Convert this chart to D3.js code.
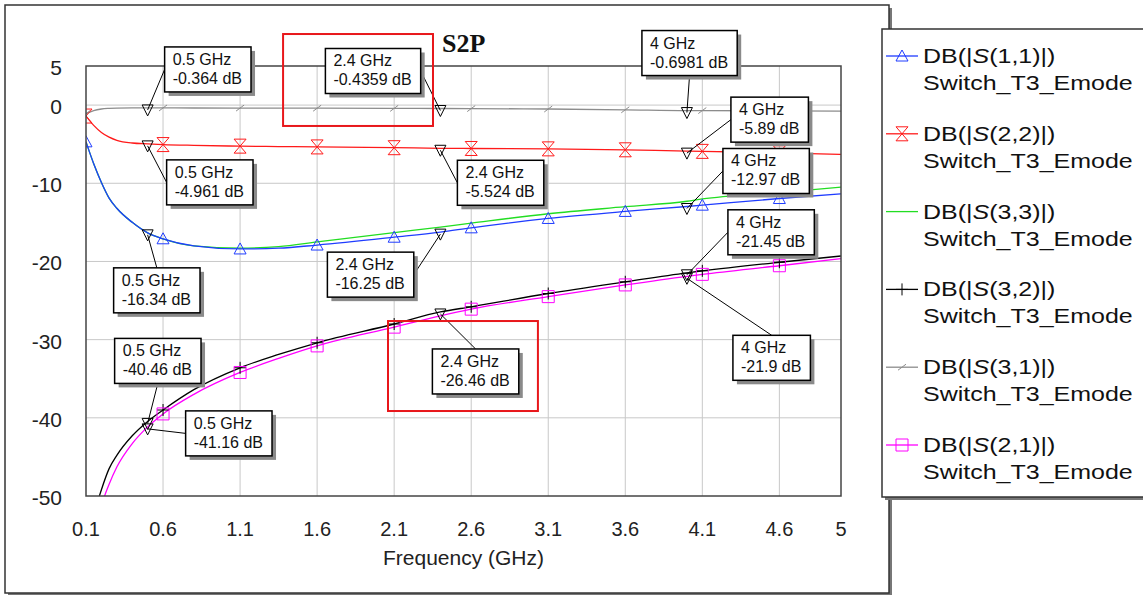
<!DOCTYPE html>
<html>
<head>
<meta charset="utf-8">
<script src="https://cdn.jsdelivr.net/npm/d3@7"></script>
<style>
  body { margin: 0; background: #fff; }
  svg { display: block; font-family: "Liberation Sans", Arial, sans-serif; }
</style>
</head>
<body>
<script>
// S-parameter sweep, Switch_T3_Emode

const FREQ = [0.1, 0.15, 0.2, 0.25, 0.3, 0.4, 0.5, 0.6, 0.8, 1.1, 1.35, 1.6, 2.1, 2.4, 2.6, 3.1, 3.6, 4.0, 4.1, 4.6, 5.0];

const S11 = [-4.7, -7.5, -9.9, -11.9, -13.2, -15.0, -16.34, -17.1, -18.0, -18.4, -18.3, -17.9, -16.9, -16.25, -15.7, -14.5, -13.6, -12.97, -12.8, -11.95, -11.35];
const S22 = [-1.4, -2.6, -3.5, -4.1, -4.5, -4.85, -4.961, -5.05, -5.15, -5.25, -5.3, -5.35, -5.45, -5.524, -5.55, -5.6, -5.72, -5.89, -5.92, -6.1, -6.3];
const S33 = [-4.7, -7.5, -9.9, -11.9, -13.2, -15.0, -16.34, -17.1, -18.0, -18.3, -18.1, -17.5, -16.3, -15.6, -15.1, -13.9, -13.0, -12.3, -12.0, -11.2, -10.5];
const S32 = [-57, -52.5, -49.2, -46.5, -44.8, -42.3, -40.46, -39.0, -36.4, -33.6, -31.9, -30.4, -28.0, -26.46, -25.8, -24.1, -22.6, -21.45, -21.2, -20.1, -19.3];
const S31 = [-1.1, -0.7, -0.5, -0.42, -0.38, -0.36, -0.364, -0.365, -0.37, -0.38, -0.39, -0.4, -0.42, -0.4359, -0.45, -0.5, -0.6, -0.6981, -0.7, -0.73, -0.78];
const S21 = [-60, -55, -51.2, -48.5, -46.3, -43.3, -41.16, -39.5, -37.0, -34.2, -32.4, -30.8, -28.4, -26.95, -26.1, -24.5, -23.0, -21.9, -21.65, -20.55, -19.65];

const SERIES_KEYS = ["S11", "S22", "S33", "S32", "S31", "S21"];
const SERIES_PORTS = ["1,1", "2,2", "3,3", "3,2", "3,1", "2,1"];
const SERIES_DESIGN = "Switch_T3_Emode";
// drawing order of the traces (blue sits on top of green)
const DRAW_ORDER = ["S33", "S11", "S22", "S31", "S32", "S21"];

const SYMBOL_FREQ = [0.1, 0.6, 1.1, 1.6, 2.1, 2.6, 3.1, 3.6, 4.1, 4.6];

const X_TICKS = [0.1, 0.6, 1.1, 1.6, 2.1, 2.6, 3.1, 3.6, 4.1, 4.6, 5];
const Y_TICKS = [5, 0, -10, -20, -30, -40, -50];

// marker readouts
const MARKER_SERIES = ["S31", "S31", "S31", "S22", "S11", "S22", "S22", "S11", "S11", "S32", "S21", "S32", "S32", "S21"];
const MARKER_FREQ = [0.5, 2.4, 4, 4, 4, 0.5, 2.4, 0.5, 2.4, 0.5, 0.5, 2.4, 4, 4];
const MARKER_VALUE = [-0.364, -0.4359, -0.6981, -5.89, -12.97, -4.961, -5.524, -16.34, -16.25, -40.46, -41.16, -26.46, -21.45, -21.9];

// callout box placement relative to its marker (px), and which side the leader leaves from
const CALLOUT_LAYOUT = [
  { dx: 17, dy: -61, side: "l" },
  { dx: -115, dy: -60, side: "r" },
  { dx: -45, dy: -80, side: "b" },
  { dx: 44, dy: -54, side: "l" },
  { dx: 36, dy: -58, side: "l" },
  { dx: 19, dy: 16, side: "l" },
  { dx: 17, dy: 12, side: "l" },
  { dx: -34, dy: 35, side: "t" },
  { dx: -113, dy: 20, side: "r" },
  { dx: -33, dy: -83, side: "b" },
  { dx: 38, dy: -16, side: "l" },
  { dx: -8, dy: 37, side: "t" },
  { dx: 41, dy: -63, side: "l" },
  { dx: 46, dy: 59, side: "t" }
];

// red highlight boxes (data units)
const HIGHLIGHT_F = [[1.379, 2.352], [2.06, 3.033]];
const HIGHLIGHT_DB = [[9.09, -2.67], [-27.62, -39.13]];

const SERIES_DATA = { S11, S22, S33, S32, S31, S21 };
const COLORS = { S11: "#1f3cff", S22: "#ff1a1a", S33: "#22dd22", S32: "#000000", S31: "#8c8c8c", S21: "#ff00ff" };

const SYMBOLS = {
  S11: "M0,-6L6,5L-6,5Z",
  S22: "M-6,-7H6L-6,7H6Z",
  S33: null,
  S32: "M-6,0H6M0,-6V6",
  S31: "M-4,3L4,-3",
  S21: "M-6,-6H6V6H-6Z"
};

const W = 1143, H = 595;
const plot = { left: 86, right: 841, top: 66, bottom: 496 };

const x = d3.scaleLinear().domain([0.1, 5]).range([plot.left, plot.right]);
const y = d3.scaleLinear().domain([5, -50]).range([plot.top, plot.bottom]);

const svg = d3.select("body").append("svg")
  .attr("width", W)
  .attr("height", H);

svg.append("defs").append("clipPath")
  .attr("id", "plotclip")
  .append("rect")
  .attr("x", plot.left)
  .attr("y", plot.top)
  .attr("width", plot.right - plot.left)
  .attr("height", plot.bottom - plot.top);

// outer frame with shadow
svg.append("rect")
  .attr("x", 8).attr("y", 8).attr("width", 884).attr("height", 588)
  .attr("fill", "#777");
svg.append("rect")
  .attr("x", 5).attr("y", 5).attr("width", 884).attr("height", 588)
  .attr("fill", "#fff")
  .attr("stroke", "#333")
  .attr("stroke-width", 1.5);

// grid
const grid = svg.append("g").attr("stroke", "#c8c8c8").attr("stroke-width", 1);
grid.selectAll(".vg")
  .data(X_TICKS.filter(t => t > 0.1 && t < 5))
  .join("line")
  .attr("x1", d => x(d)).attr("x2", d => x(d))
  .attr("y1", plot.top).attr("y2", plot.bottom);
grid.selectAll(".hg")
  .data(Y_TICKS.filter(t => t < 5 && t > -50))
  .join("line")
  .attr("x1", plot.left).attr("x2", plot.right)
  .attr("y1", d => y(d)).attr("y2", d => y(d));

// traces
const traces = svg.append("g").attr("clip-path", "url(#plotclip)");
const line = d3.line()
  .x((d, i) => x(FREQ[i]))
  .y(d => y(d))
  .curve(d3.curveMonotoneX);

DRAW_ORDER.forEach(k => {
  traces.append("path")
    .attr("d", line(SERIES_DATA[k]))
    .attr("fill", "none")
    .attr("stroke", COLORS[k])
    .attr("stroke-width", 1.3);
});

DRAW_ORDER.forEach(k => {
  if (!SYMBOLS[k]) return;
  const pts = FREQ.map((f, i) => ({ f, v: SERIES_DATA[k][i] }))
    .filter(p => SYMBOL_FREQ.some(s => Math.abs(s - p.f) < 1e-6));
  traces.selectAll(null)
    .data(pts)
    .join("path")
    .attr("transform", d => `translate(${x(d.f)},${y(d.v)})`)
    .attr("d", SYMBOLS[k])
    .attr("fill", "none")
    .attr("stroke", COLORS[k])
    .attr("stroke-width", 1);
});

// plot border
svg.append("rect")
  .attr("x", plot.left).attr("y", plot.top)
  .attr("width", plot.right - plot.left).attr("height", plot.bottom - plot.top)
  .attr("fill", "none")
  .attr("stroke", "#444")
  .attr("stroke-width", 1.5);

// axis labels
svg.append("g").selectAll("text")
  .data(Y_TICKS)
  .join("text")
  .attr("x", 62)
  .attr("y", d => y(d) + 9)
  .attr("text-anchor", "end")
  .attr("font-size", 21)
  .attr("fill", "#222")
  .text(d => d);

svg.append("g").selectAll("text")
  .data(X_TICKS)
  .join("text")
  .attr("x", d => x(d))
  .attr("y", 536)
  .attr("text-anchor", "middle")
  .attr("font-size", 20)
  .attr("fill", "#222")
  .text(d => d);

svg.append("text")
  .attr("x", (plot.left + plot.right) / 2)
  .attr("y", 565)
  .attr("text-anchor", "middle")
  .attr("font-size", 21)
  .attr("fill", "#222")
  .text("Frequency (GHz)");

// title
svg.append("text")
  .attr("x", 442)
  .attr("y", 52)
  .attr("font-family", "'Liberation Serif', 'Times New Roman', serif")
  .attr("font-weight", "bold")
  .attr("font-size", 26)
  .attr("fill", "#111")
  .text("S2P");

// marker callouts
const markers = MARKER_SERIES.map((s, i) => ({
  s, f: MARKER_FREQ[i], v: MARKER_VALUE[i], lay: CALLOUT_LAYOUT[i]
}));

const leaders = svg.append("g");
const tris = svg.append("g");
const boxes = svg.append("g");

markers.forEach(m => {
  const px = x(m.f), py = y(m.v);
  const bx = px + m.lay.dx, by = py + m.lay.dy;
  const g = boxes.append("g");
  const shadow = g.append("rect").attr("fill", "#8a8a8a");
  const box = g.append("rect").attr("fill", "#fff").attr("stroke", "#000").attr("stroke-width", 1.5);
  const t1 = g.append("text").attr("x", bx + 8).attr("y", by + 18).attr("font-size", 16).attr("fill", "#111")
    .text(`${m.f} GHz`);
  const t2 = g.append("text").attr("x", bx + 8).attr("y", by + 37).attr("font-size", 16).attr("fill", "#111")
    .text(`${m.v} dB`);
  const w = Math.max(t1.node().getComputedTextLength(), t2.node().getComputedTextLength()) + 17;
  const h = 45;
  shadow.attr("x", bx + 4).attr("y", by + 4).attr("width", w).attr("height", h);
  box.attr("x", bx).attr("y", by).attr("width", w).attr("height", h);

  let ax, ay;
  if (m.lay.side === "l") { ax = bx; ay = by + h / 2; }
  else if (m.lay.side === "r") { ax = bx + w; ay = by + h / 2; }
  else if (m.lay.side === "t") { ax = bx + w / 2; ay = by; }
  else { ax = bx + w / 2; ay = by + h; }

  leaders.append("line")
    .attr("x1", ax).attr("y1", ay)
    .attr("x2", px).attr("y2", py + 2)
    .attr("stroke", "#000")
    .attr("stroke-width", 1);

  tris.append("path")
    .attr("transform", `translate(${px},${py})`)
    .attr("d", "M-5.5,-3H5.5L0,8Z")
    .attr("fill", "none")
    .attr("stroke", "#000")
    .attr("stroke-width", 1);
});

// red highlight boxes
svg.append("g").selectAll("rect")
  .data(HIGHLIGHT_F.map((f, i) => ({ f, d: HIGHLIGHT_DB[i] })))
  .join("rect")
  .attr("x", d => x(d.f[0]))
  .attr("y", d => y(d.d[0]))
  .attr("width", d => x(d.f[1]) - x(d.f[0]))
  .attr("height", d => y(d.d[1]) - y(d.d[0]))
  .attr("fill", "none")
  .attr("stroke", "#e8171b")
  .attr("stroke-width", 2);

// legend
const legend = svg.append("g");
legend.append("rect")
  .attr("x", 885).attr("y", 32).attr("width", 270).attr("height", 468)
  .attr("fill", "#777");
legend.append("rect")
  .attr("x", 882).attr("y", 29).attr("width", 270).attr("height", 468)
  .attr("fill", "#fff")
  .attr("stroke", "#333")
  .attr("stroke-width", 1.5);

SERIES_KEYS.forEach((k, i) => {
  const yb = 63 + i * 77.8;
  const ly = yb - 7;
  legend.append("line")
    .attr("x1", 886).attr("x2", 918)
    .attr("y1", ly).attr("y2", ly)
    .attr("stroke", COLORS[k])
    .attr("stroke-width", 1.3);
  if (SYMBOLS[k]) {
    legend.append("path")
      .attr("transform", `translate(902,${ly})`)
      .attr("d", SYMBOLS[k])
      .attr("fill", "none")
      .attr("stroke", COLORS[k])
      .attr("stroke-width", 1);
  }
  const t1 = legend.append("text")
    .attr("transform", `translate(923,${yb}) scale(1.19,1)`)
    .attr("font-size", 21)
    .attr("fill", "#111");
  t1.append("tspan").text("DB(|");
  t1.append("tspan").attr("font-style", "italic").text("S");
  t1.append("tspan").text(`(${SERIES_PORTS[i]})|)`);
  legend.append("text")
    .attr("transform", `translate(923,${yb + 27}) scale(1.19,1)`)
    .attr("font-size", 21)
    .attr("fill", "#111")
    .text(SERIES_DESIGN);
});
</script>
</body>
</html>
